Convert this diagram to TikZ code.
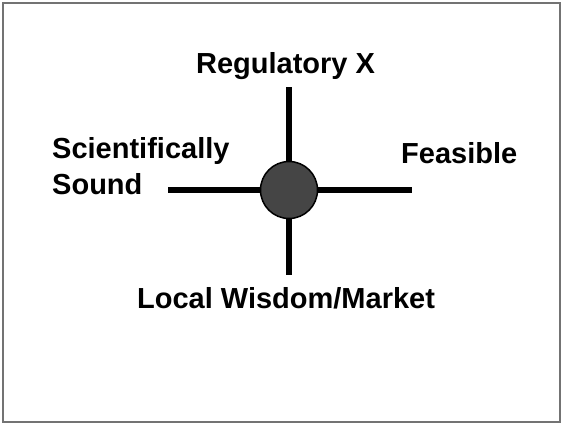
\documentclass[tikz,border=0pt]{standalone}
\usepackage{fontspec}
\setmainfont{Liberation Sans}
\usepackage{tikz}
\usetikzlibrary{shapes.geometric}
\tikzstyle{label} = [inner sep=0pt, font=\fontsize{29}{36}\selectfont\bfseries]
\tikzstyle{arm} = [line width=5.5pt, black]
\tikzstyle{hub} = [circle, draw=black, line width=1.5pt, fill=black!73, minimum size=57pt, inner sep=0pt]

\begin{document}
\begin{tikzpicture}[x=1pt,y=-1pt]
  \useasboundingbox (0,0) rectangle (563,424);
  \draw[black!55, line width=1.5pt] (3,3) rectangle (560,422);
  \coordinate (up) at (289,87);
  \coordinate (down) at (289,275);
  \coordinate (left) at (168,190);
  \coordinate (right) at (412,190);
  \node[hub] (center) at (289,190) {};
  \draw[arm] (center) -- (up);
  \draw[arm] (center) -- (down);
  \draw[arm] (center) -- (left);
  \draw[arm] (center) -- (right);
  \node[label, anchor=base] (reg) at (285.5,73) {Regulatory X};
  % last line sits on the base anchor
  \node[label, anchor=base west, align=left] (sci) at (52,194) {Scientifically\\Sound};
  \node[label, anchor=base west] (feas) at (401,163) {Feasible};
  \node[label, anchor=base] (local) at (286,308) {Local Wisdom/Market};
\end{tikzpicture}
\end{document}
